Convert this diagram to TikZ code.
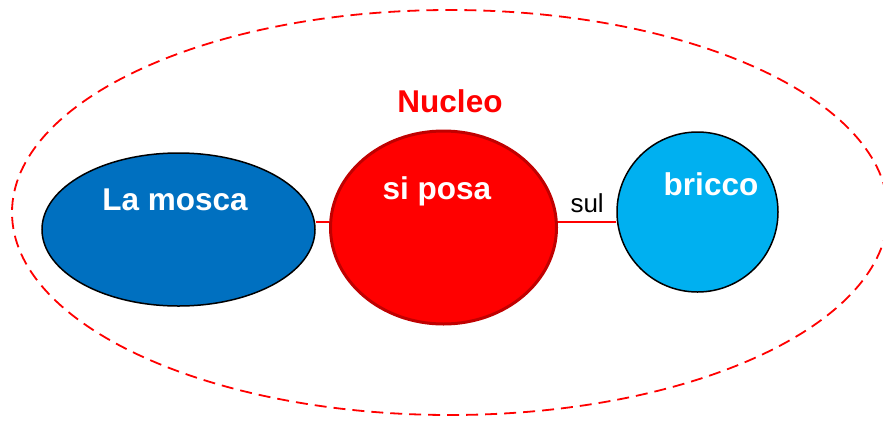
\documentclass[tikz,border=0pt]{standalone}
\usepackage{fontspec}
\setmainfont{Liberation Sans}
\usetikzlibrary{shapes.geometric}
\definecolor{dblue}{HTML}{0070C0}
\definecolor{lblue}{HTML}{00B0F0}
\definecolor{dred}{HTML}{C00000}
\tikzset{
  blob/.style={ellipse, inner sep=0pt, draw=black, line width=1.5pt},
  lbl/.style={anchor=base, font=\fontsize{31.5}{31.5}\selectfont\bfseries, text=white, inner sep=0pt},
  link/.style={draw=red, line width=1.5pt}
}
\begin{document}
\begin{tikzpicture}[x=1pt,y=-1pt]
\useasboundingbox (0,0) rectangle (883,421);
\node[ellipse, draw=red, dash pattern=on 12pt off 7pt, line width=1.8pt, minimum width=876pt, minimum height=405pt, inner sep=0pt] (outer) at (450,212.5) {};
\node[blob, fill=dblue, minimum width=273pt, minimum height=153pt] (L) at (178.5,229.5) {};
\node[blob, fill=red, draw=dred, line width=3pt, minimum width=226pt, minimum height=193pt] (M) at (443.5,227.5) {};
\node[blob, fill=lblue, minimum width=161pt, minimum height=160pt] (R) at (697.5,212) {};
\coordinate (cy) at (0,222);
\draw[link] (L.east |- cy) -- (M.west |- cy);
\draw[link] (M.east |- cy) -- node[pos=0.5, above=9pt, font=\fontsize{26}{26}\selectfont, text=black, inner sep=0pt] (sul) {sul} (R.west |- cy);
\node[lbl] (tL) at (175,210) {La mosca};
\node[lbl] (tM) at (437,199) {si posa};
\node[lbl] (tR) at (711,195) {bricco};
\node[lbl, text=red] (nuc) at (450,112) {Nucleo};
\end{tikzpicture}
\end{document}
